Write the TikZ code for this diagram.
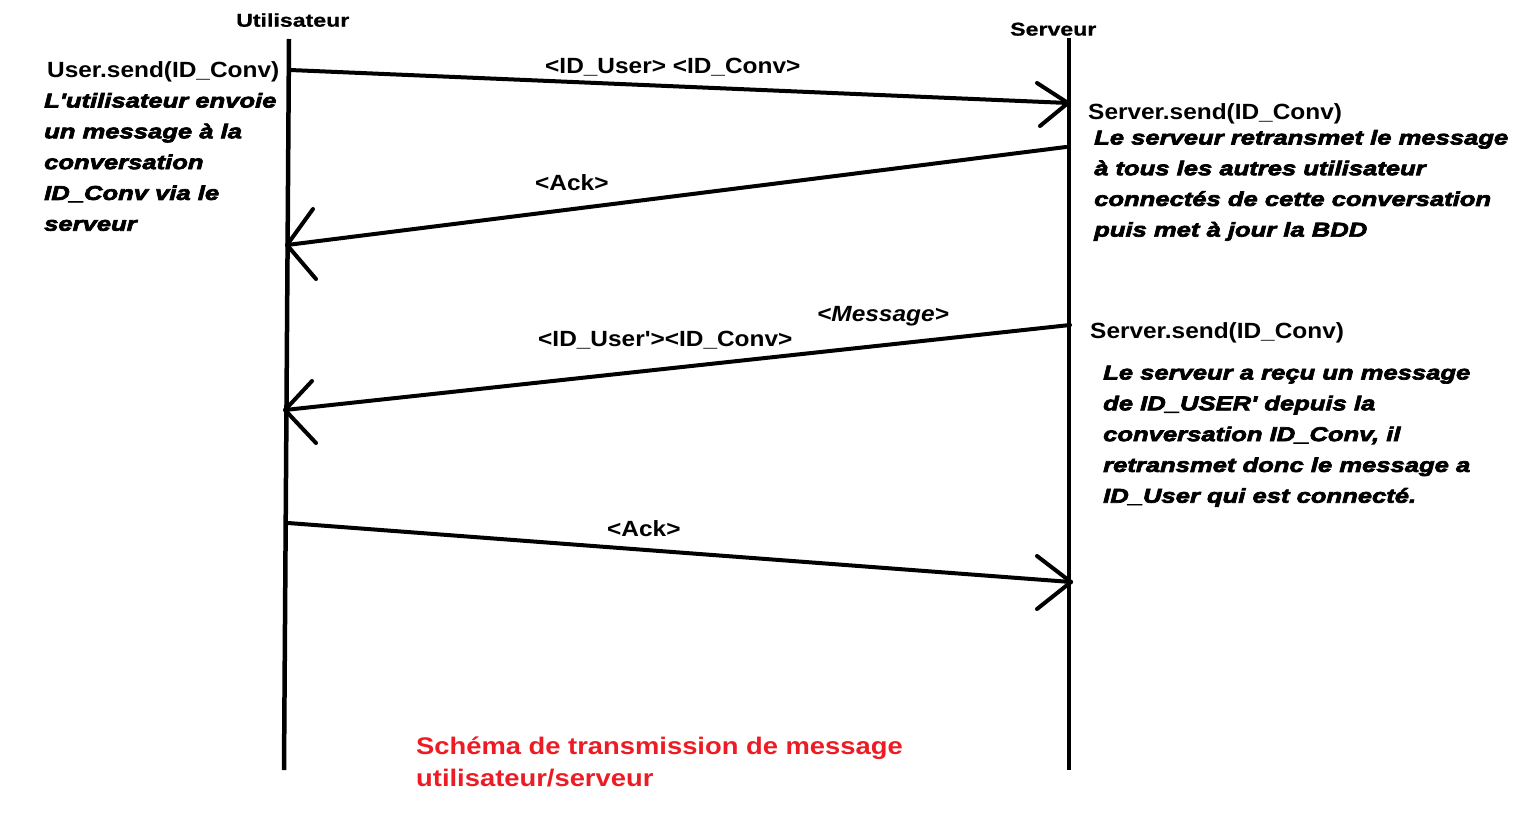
\documentclass[tikz,border=0pt]{standalone}
\usepackage{fontspec}
\newfontfamily\lblf{Liberation Sans}[FakeStretch=1.11]
\newfontfamily\hdrf{Liberation Sans}[FakeStretch=1.25,FakeBold=0.8]
\newfontfamily\descf{Liberation Sans}[FakeStretch=1.28,FakeBold=3.5]
\newfontfamily\titf{Liberation Sans}[FakeStretch=1.14]
\definecolor{paintred}{RGB}{237,28,36}
\tikzset{
  lbl/.style={anchor=base west,inner sep=0pt,font=\lblf\bfseries\fontsize{22}{26}\selectfont},
  lbli/.style={lbl,font=\lblf\bfseries\itshape\fontsize{22}{26}\selectfont},
  hdr/.style={anchor=base west,inner sep=0pt,font=\hdrf\bfseries\fontsize{18.5}{22}\selectfont},
  desc/.style={anchor=base west,inner sep=0pt,font=\descf\bfseries\itshape\fontsize{20}{24}\selectfont},
  ttl/.style={anchor=base west,inner sep=0pt,text=paintred,font=\titf\bfseries\fontsize{24}{30}\selectfont},
  life/.style={line width=4.5pt},
  msg/.style={line width=4pt,line cap=round,line join=round},
}
\begin{document}
\begin{tikzpicture}[x=1pt,y=-1pt]
\useasboundingbox (0,0) rectangle (1529,816);
% lifelines
\coordinate (ut) at (289,39);
\coordinate (ub) at (284,770);
\coordinate (st) at (1069,38);
\coordinate (sb) at (1069,770);
\draw[life] (ut) -- (ub);
\draw[life] (st) -- (sb);
% headers
\node[hdr] (hu) at (236,26.7) {Utilisateur};
\node[hdr] (hs) at (1010,35.6) {Serveur};
% message 1
\coordinate (m1s) at (290,70);
\coordinate (m1e) at (1068,103);
\coordinate (m1a) at (1037,83);
\coordinate (m1b) at (1040,126);
\draw[msg] (m1s) -- (m1e);
\draw[msg] (m1a) -- (m1e) -- (m1b);
% message 2
\coordinate (m2s) at (1066,147);
\coordinate (m2e) at (287,245);
\coordinate (m2a) at (313,209);
\coordinate (m2b) at (316,279);
\draw[msg] (m2s) -- (m2e);
\draw[msg] (m2a) -- (m2e) -- (m2b);
% message 3
\coordinate (m3s) at (1070,325);
\coordinate (m3e) at (285,410);
\coordinate (m3a) at (312,381);
\coordinate (m3b) at (316,443);
\draw[msg] (m3s) -- (m3e);
\draw[msg] (m3a) -- (m3e) -- (m3b);
% message 4
\coordinate (m4s) at (288,523);
\coordinate (m4e) at (1071,582);
\coordinate (m4a) at (1037,556);
\coordinate (m4b) at (1037,609);
\draw[msg] (m4s) -- (m4e);
\draw[msg] (m4a) -- (m4e) -- (m4b);
% labels
\node[lbl] (us) at (47,77.3) {User.send(ID\_Conv)};
\node[desc] (d1) at (44,107.5) {L'utilisateur envoie};
\node[desc] (d2) at (44,138.3) {un message à la};
\node[desc] (d3) at (44,169.1) {conversation};
\node[desc] (d4) at (44,199.9) {ID\_Conv via le};
\node[desc] (d5) at (44,230.7) {serveur};
\node[lbl] (ss1) at (1088,119) {Server.send(ID\_Conv)};
\node[desc] (e1) at (1094,144.5) {Le serveur retransmet le message};
\node[desc] (e2) at (1094,175.2) {à tous les autres utilisateur};
\node[desc] (e3) at (1094,205.9) {connectés de cette conversation};
\node[desc] (e4) at (1094,236.6) {puis met à jour la BDD};
\node[lbl] (ss2) at (1090,338.3) {Server.send(ID\_Conv)};
\node[desc] (f1) at (1103,379.5) {Le serveur a reçu un message};
\node[desc] (f2) at (1103,410.3) {de ID\_USER' depuis la};
\node[desc] (f3) at (1103,441.1) {conversation ID\_Conv, il};
\node[desc] (f4) at (1103,471.9) {retransmet donc le message a};
\node[desc] (f5) at (1103,502.7) {ID\_User qui est connecté.};
\node[lbl] (l1) at (545,74) {<ID\_User> <ID\_Conv>};
\node[lbl] (l2) at (535,190) {<Ack>};
\node[lbli] (l3) at (817,321.7) {<Message>};
\node[lbl] (l4) at (538,346.7) {<ID\_User'><ID\_Conv>};
\node[lbl] (l5) at (607,536.7) {<Ack>};
\node[ttl] (t1) at (416,754.5) {Schéma de transmission de message};
\node[ttl] (t2) at (416,786.5) {utilisateur/serveur};
\end{tikzpicture}
\end{document}
